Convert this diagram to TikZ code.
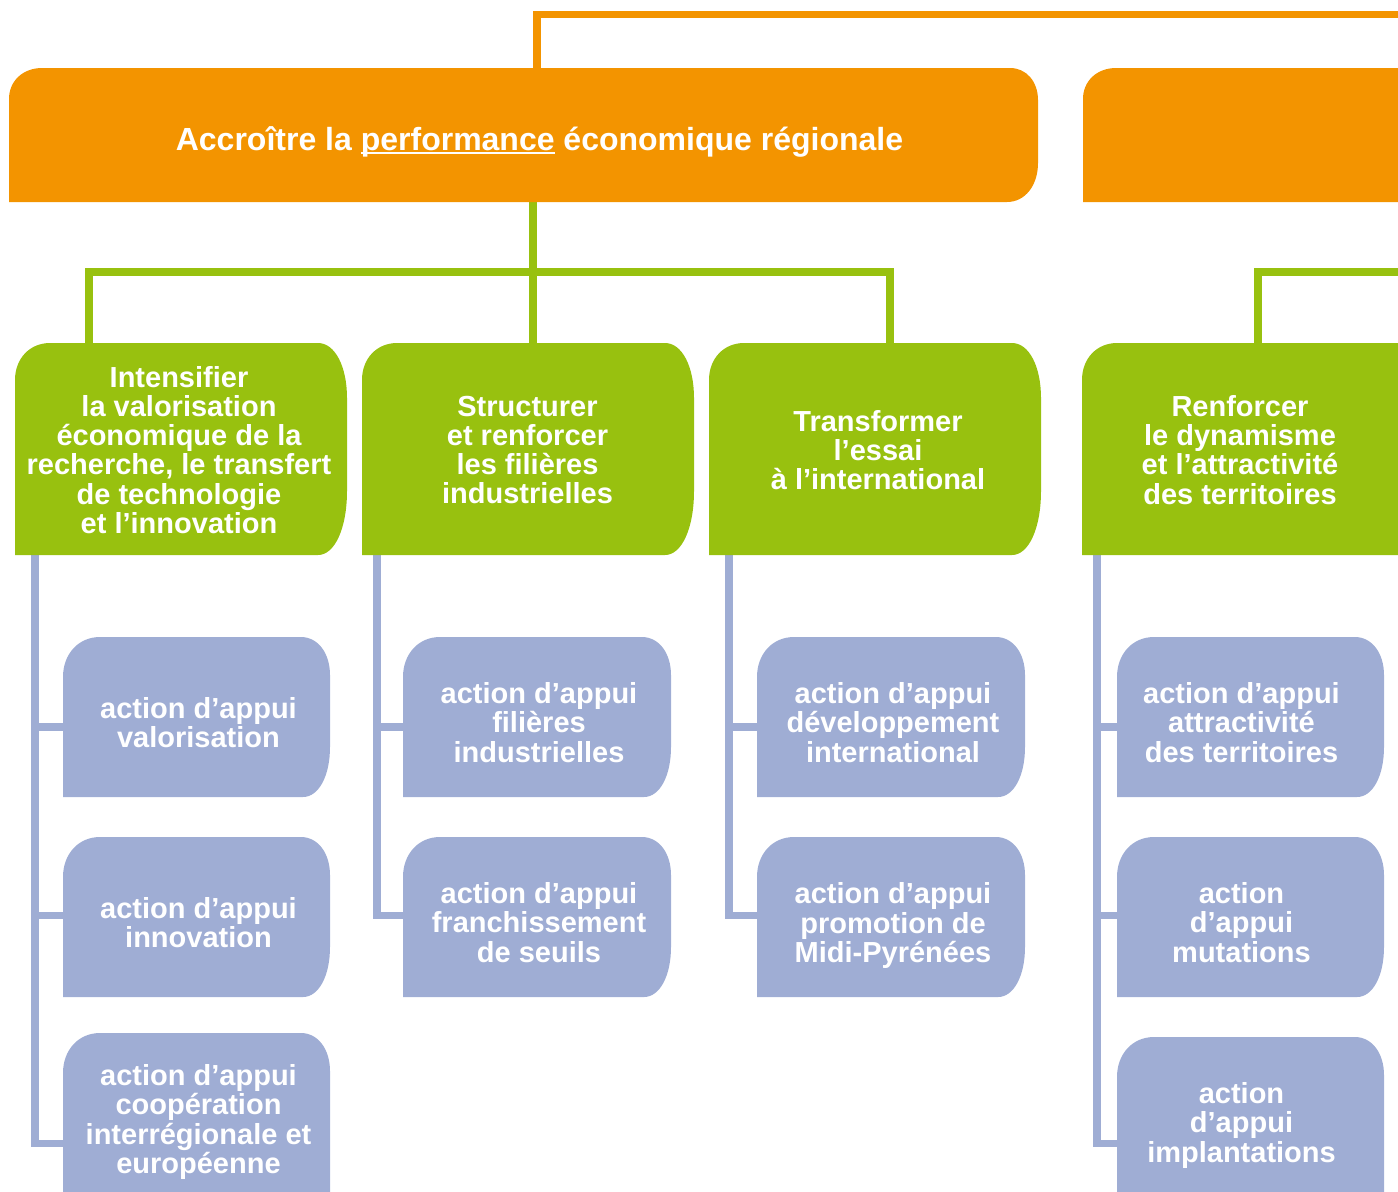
\documentclass[tikz,border=0pt]{standalone}
\usepackage{fontspec}
\setmainfont{Liberation Sans}
\definecolor{cOr}{RGB}{243,148,0}
\definecolor{cGr}{RGB}{152,193,15}
\definecolor{cBl}{RGB}{159,173,212}
\newcommand\cbSetRad[6]{\def\cbTLx{#1}\def\cbTLy{#2}\def\cbTRx{#3}\def\cbTRy{#4}\def\cbBRx{#5}\def\cbBRy{#6}}
\def\cbK{0.42}
\newcommand\cbBox[5]{%
  \fill[#5] (#1,#4) -- (#1,{#2+\cbTLy})
    .. controls (#1,{#2+\cbTLy*\cbK}) and ({#1+\cbTLx*\cbK},#2) .. ({#1+\cbTLx},#2)
    -- ({#3-\cbTRx},#2)
    .. controls ({#3-\cbTRx*\cbK},#2) and (#3,{#2+\cbTRy*\cbK}) .. (#3,{#2+\cbTRy})
    -- (#3,{#4-\cbBRy})
    .. controls (#3,{#4-\cbBRy*\cbK}) and ({#3-\cbBRx*\cbK},#4) .. ({#3-\cbBRx},#4)
    -- cycle;}
\newcommand\myul[1]{\setbox0\hbox{#1}\rlap{\rule[-2.1pt]{\wd0}{1.1pt}}\box0\relax}
\begin{document}
\begin{tikzpicture}[x=0.5pt,y=-0.5pt,line join=miter,
  oline/.style={draw=cOr,line width=3.8pt},
  gline/.style={draw=cGr,line width=3.9pt},
  bline/.style={draw=cBl,line width=3.9pt},
  ttl/.style={text=white,font=\bfseries\fontsize{16}{19}\selectfont,inner sep=0pt},
  gtxt/.style={text=white,font=\bfseries\fontsize{14.5}{14.6}\selectfont,align=center,inner sep=0pt},
  btxt/.style={text=white,font=\bfseries\fontsize{14.5}{14.75}\selectfont,align=center,inner sep=0pt}]
\useasboundingbox (0,0) rectangle (1398,1191);
\clip (0,0) rectangle (1398,1191);

% ---- connector coordinates
\coordinate (o1t) at (537,68);
\coordinate (oR) at (1420,14.5);
\coordinate (o1b) at (533,202);
\coordinate (g1t) at (89,343);
\coordinate (g2t) at (533,343);
\coordinate (g3t) at (890,343);
\coordinate (gbar) at (0,272);
\coordinate (g4t) at (1258,343);
\coordinate (gR) at (1420,272);
\coordinate (g1b) at (35,555);
\coordinate (g2b) at (377,555);
\coordinate (g3b) at (729,555);
\coordinate (g4b) at (1097,555);
\coordinate (b11) at (63,727);
\coordinate (b12) at (63,915.5);
\coordinate (b13) at (63,1143.5);
\coordinate (b21) at (403,727);
\coordinate (b22) at (403,915.5);
\coordinate (b31) at (757,727);
\coordinate (b32) at (757,915.5);
\coordinate (b41) at (1117,727);
\coordinate (b42) at (1117,915.5);
\coordinate (b43) at (1117,1143.5);

% ---- connectors
\draw[oline] (o1t) |- (oR);
\draw[gline] (o1b) -- (g2t);
\draw[gline] (g1t) -- (g1t |- gbar) -- (g3t |- gbar) -- (g3t);
\draw[gline] (g4t) |- (gR);
\draw[bline] (g1b) |- (b13);
\draw[bline] (g1b |- b11) -- (b11);
\draw[bline] (g1b |- b12) -- (b12);
\draw[bline] (g2b) |- (b22);
\draw[bline] (g2b |- b21) -- (b21);
\draw[bline] (g3b) |- (b32);
\draw[bline] (g3b |- b31) -- (b31);
\draw[bline] (g4b) |- (b43);
\draw[bline] (g4b |- b41) -- (b41);
\draw[bline] (g4b |- b42) -- (b42);

% ---- orange boxes
\cbSetRad{33}{31}{28}{32}{31}{39}
\cbBox{9}{68}{1038}{202}{cOr}
\cbBox{1083}{68}{1460}{202}{cOr}

% ---- green boxes
\cbSetRad{35}{37}{29}{55}{29}{64}
\cbBox{15}{343}{347}{555}{cGr}
\cbBox{362}{343}{694}{555}{cGr}
\cbBox{709}{343}{1041}{555}{cGr}
\cbBox{1082}{343}{1460}{555}{cGr}

% ---- blue boxes
\cbSetRad{37}{40}{29}{38}{27}{50}
\cbBox{63}{637}{330}{797}{cBl}
\cbBox{63}{837}{330}{997}{cBl}
\cbBox{63}{1033}{330}{1260}{cBl}
\cbBox{403}{637}{671}{797}{cBl}
\cbBox{403}{837}{671}{997}{cBl}
\cbBox{757}{637}{1025}{797}{cBl}
\cbBox{757}{837}{1025}{997}{cBl}
\cbBox{1117}{637}{1384}{797}{cBl}
\cbBox{1117}{837}{1384}{997}{cBl}
\cbBox{1117}{1037}{1384}{1260}{cBl}

% ---- texts
\node[ttl,anchor=base] (title) at (539.5,150) {Accroître la \myul{performance} économique régionale};

\node[gtxt] (ga) at (179,450) {Intensifier\\la valorisation\\économique de la\\recherche, le transfert\\de technologie\\et l’innovation};
\node[gtxt] (gb) at (527.5,450) {Structurer\\et renforcer\\les filières\\industrielles};
\node[gtxt] (gc) at (878,450) {Transformer\\l’essai\\à l’international};
\node[gtxt] (gd) at (1240,450) {Renforcer\\le dynamisme\\et l’attractivité\\des territoires};

\node[btxt] (ba1) at (198.5,722.5) {action d’appui\\valorisation};
\node[btxt] (ba2) at (198.5,922.5) {action d’appui\\innovation};
\node[btxt] (ba3) at (198.5,1122) {action d’appui\\coopération\\interrégionale et\\européenne};
\node[btxt] (bb1) at (539,722.5) {action d’appui\\filières\\industrielles};
\node[btxt] (bb2) at (539,922.5) {action d’appui\\franchissement\\de seuils};
\node[btxt] (bc1) at (893,722.5) {action d’appui\\développement\\international};
\node[btxt] (bc2) at (893,925.5) {action d’appui\\promotion de\\Midi-Pyrénées};
\node[btxt] (bd1) at (1241.5,722.5) {action d’appui\\attractivité\\des territoires};
\node[btxt] (bd2) at (1241.5,922.5) {action\\d’appui\\mutations};
\node[btxt] (bd3) at (1241.5,1125) {action\\d’appui\\implantations};
\end{tikzpicture}
\end{document}
